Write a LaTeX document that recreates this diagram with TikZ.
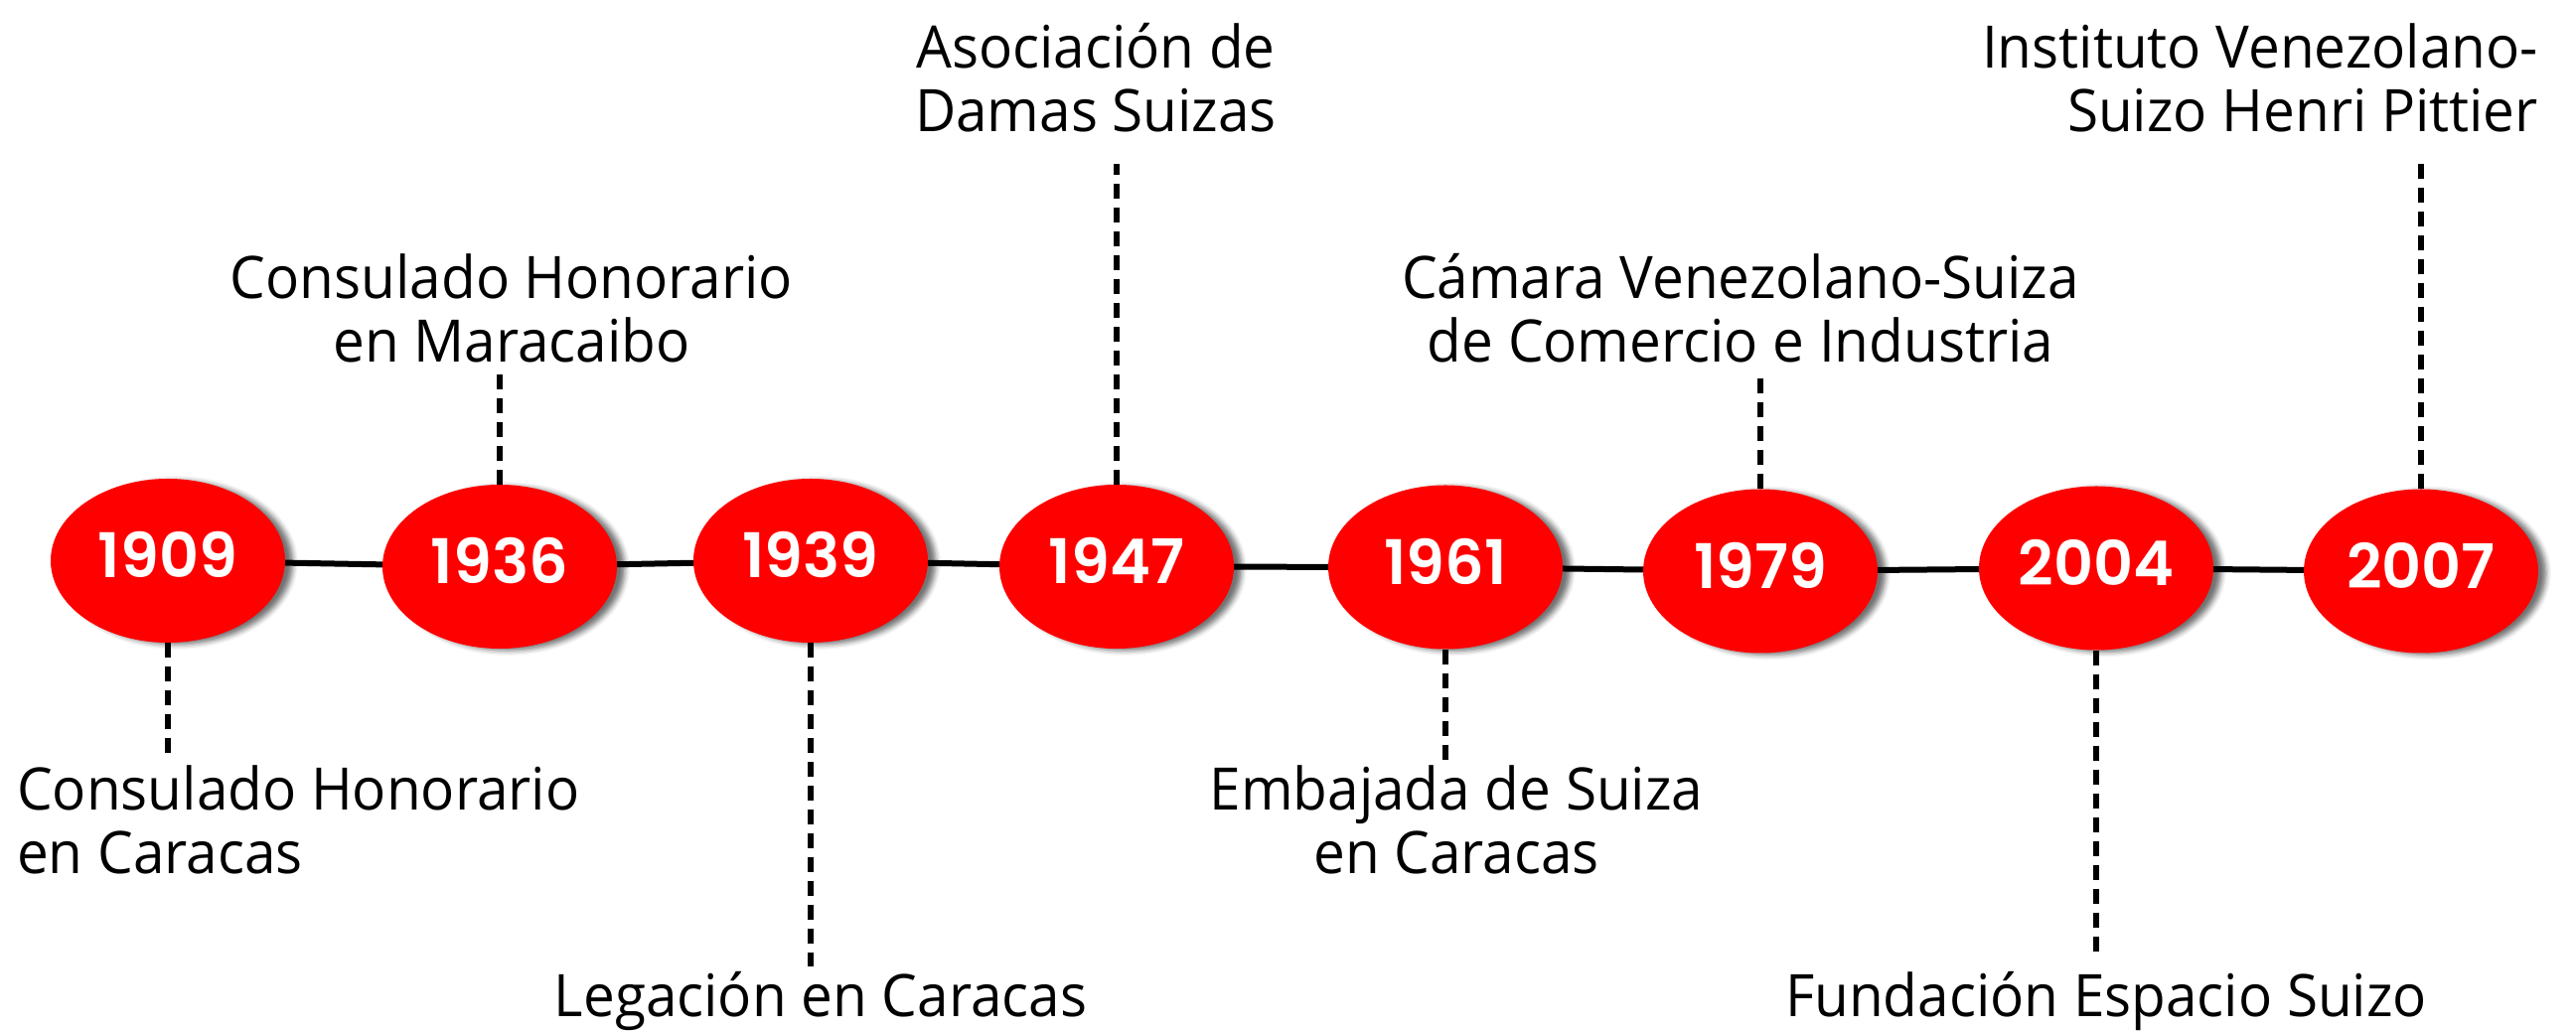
\documentclass[tikz,border=0pt]{standalone}
\usepackage{fontspec}
\setmainfont{Open Sans}[FakeStretch=0.96]
\newfontfamily\yearfont{Poppins SemiBold}
\usetikzlibrary{shapes.geometric,shadows.blur}
\definecolor{yearred}{HTML}{FF0000}
\tikzset{
    year/.style={ellipse, fill=yearred, inner sep=0pt,
        minimum width=236pt, minimum height=165pt,
        text=white, font=\yearfont\fontsize{62}{62}\selectfont,
        text height=43pt, text depth=8pt,
        blur shadow={shadow xshift=8pt, shadow yshift=-2pt,
            shadow blur radius=5pt, shadow opacity=55}},
    event/.style={inner sep=0pt, font=\fontsize{59}{64}\selectfont},
    tick/.style={line width=6pt, dash pattern=on 15pt off 9pt},
    timeline/.style={line width=6pt}
}
\begin{document}
\begin{tikzpicture}[x=1pt,y=1pt]
        \useasboundingbox (0,0) rectangle (2593,1040);

        \node[year] (n1909) at (169,475.5) {1909};
        \node[year] (n1936) at (503,469.5) {1936};
        \node[year] (n1939) at (816,475.5) {1939};
        \node[year] (n1947) at (1124,469.5) {1947};
        \node[year] (n1961) at (1455,469) {1961};
        \node[year] (n1979) at (1772,465) {1979};
        \node[year] (n2004) at (2110,468) {2004};
        \node[year] (n2007) at (2437,465) {2007};

        \path[timeline] (n1909) edge (n1936);
        \path[timeline] (n1936) edge (n1939);
        \path[timeline] (n1939) edge (n1947);
        \path[timeline] (n1947) edge (n1961);
        \path[timeline] (n1961) edge (n1979);
        \path[timeline] (n1979) edge (n2004);
        \path[timeline] (n2004) edge (n2007);

        % events
        \node[event, anchor=north west, align=left] (l1909) at (17,270) {Consulado Honorario\\en Caracas};
        \node[event, anchor=south, align=center] (l1936) at (515,675) {Consulado Honorario\\en Maracaibo};
        \node[event, anchor=north] (l1939) at (826,62) {Legación en Caracas};
        \node[event, anchor=south, align=center] (l1947) at (1103,907) {Asociación de\\Damas Suizas};
        \node[event, anchor=north, align=center] (l1961) at (1466,270) {Embajada de Suiza\\en Caracas};
        \node[event, anchor=south, align=center] (l1979) at (1752,675) {Cámara Venezolano-Suiza\\de Comercio e Industria};
        \node[event, anchor=north] (l2004) at (2120,62) {Fundación Espacio Suizo};
        \node[event, anchor=south east, align=right] (l2007) at (2555,907) {Instituto Venezolano-\\Suizo Henri Pittier};

        \draw[tick, shorten >=8pt] (n1909.south) -- (n1909.south |- l1909.north);
        \draw[tick, shorten >=12pt] (n1936.north) -- (n1936.north |- l1936.south);
        \draw[tick, shorten >=5pt] (n1939.south) -- (n1939.south |- l1939.north);
        \draw[tick, shorten >=32pt] (n1947.north) -- (n1947.north |- l1947.south);
        \draw[tick, shorten >=4pt] (n1961.south) -- (n1961.south |- l1961.north);
        \draw[tick, shorten >=12pt] (n1979.north) -- (n1979.north |- l1979.south);
        \draw[tick, shorten >=13pt] (n2004.south) -- (n2004.south |- l2004.north);
        \draw[tick, shorten >=32pt] (n2007.north) -- (n2007.north |- l2007.south);
\end{tikzpicture}
\end{document}
